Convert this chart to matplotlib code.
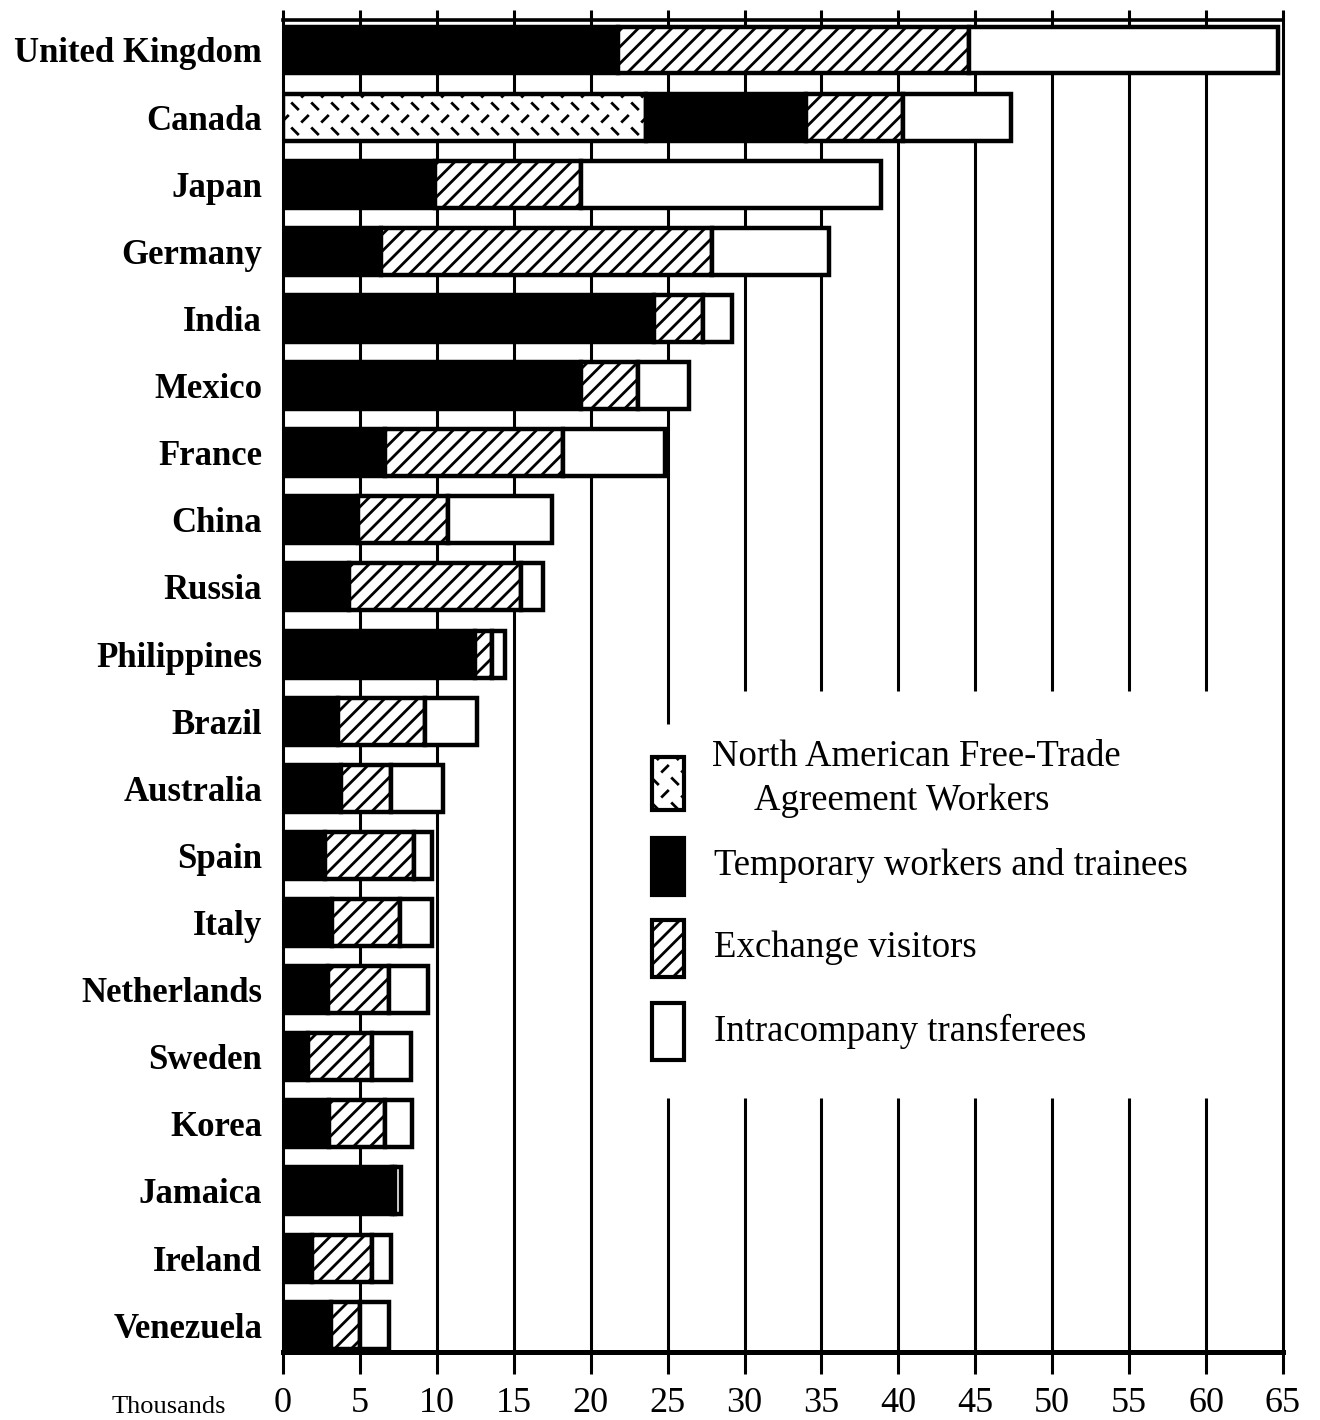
import numpy as np
import matplotlib
matplotlib.use("Agg")
import matplotlib.pyplot as plt
import matplotlib.hatch as mhatch
from matplotlib.path import Path
from matplotlib.patches import Rectangle

# --- data (thousands) ---
countries = ["United Kingdom", "Canada", "Japan", "Germany", "India", "Mexico",
             "France", "China", "Russia", "Philippines", "Brazil", "Australia",
             "Spain", "Italy", "Netherlands", "Sweden", "Korea", "Jamaica",
             "Ireland", "Venezuela"]
nafta = [0, 23.6, 0, 0, 0, 0, 0, 0, 0, 0, 0, 0, 0, 0, 0, 0, 0, 0, 0, 0]
temporary = [21.8, 10.4, 9.9, 6.4, 24.1, 19.4, 6.6, 4.9, 4.3, 12.5,
             3.6, 3.8, 2.7, 3.2, 2.9, 1.6, 3.0, 7.1, 1.9, 3.1]
exchange = [22.8, 6.3, 9.5, 21.5, 3.2, 3.7, 11.6, 5.8, 11.2, 1.1,
            5.6, 3.2, 5.8, 4.4, 4.0, 4.2, 3.6, 0.2, 3.9, 1.9]
intracompany = [20.1, 7.0, 19.5, 7.6, 1.9, 3.3, 6.6, 6.8, 1.4, 0.8,
                3.4, 3.4, 1.2, 2.1, 2.5, 2.5, 1.8, 0.4, 1.2, 1.9]
xticks = list(range(0, 70, 5))

legend_labels = ["North American Free-Trade", "Agreement Workers",
                 "Temporary workers and trainees", "Exchange visitors",
                 "Intracompany transferees"]


# short dashes leaning both ways, like the NAFTA fill in the scan
class NaftaWeave(mhatch.HatchPatternBase):
    def __init__(self, hatch, density):
        self.rows = 8 * hatch.count('*')
        self.cols = 5
        self.num_vertices = self.rows * self.cols * 2

    def set_vertices_and_codes(self, vertices, codes):
        d = 0.028
        k = 0
        for j in range(self.rows):
            yc = (j + 0.5) / self.rows
            s = 1 if j % 2 == 0 else -1
            for i in range(self.cols):
                xc = (i + 0.25 + 0.5 * (j % 2)) / self.cols
                vertices[k] = (xc - d, yc - s * d)
                vertices[k + 1] = (xc + d, yc + s * d)
                codes[k] = Path.MOVETO
                codes[k + 1] = Path.LINETO
                k += 2


mhatch._hatch_types = [t for t in mhatch._hatch_types if t is not mhatch.Stars] + [NaftaWeave]

plt.rcParams['font.family'] = ['Liberation Serif', 'DejaVu Serif']
plt.rcParams['hatch.linewidth'] = 2.0
plt.rcParams['hatch.color'] = 'black'

W, H = 1320, 1420
fig = plt.figure(figsize=(W / 100, H / 100), dpi=100)
ax_left, ax_right, ax_top, ax_bot = 283, 1283, 20, 1352
ax = fig.add_axes([ax_left / W, 1 - ax_bot / H, (ax_right - ax_left) / W, (ax_bot - ax_top) / H])

y = np.arange(len(countries))
y_top, y_bot = -0.447, 19.40
ax.set_xlim(0, 65)
ax.set_ylim(y_bot, y_top)

# stacked bars
series = [
    (nafta, 'white', '*'),
    (temporary, 'black', None),
    (exchange, 'white', '//'),
    (intracompany, 'white', None),
]
left = np.zeros(len(countries))
for vals, fc, hatch in series:
    vals = np.array(vals)
    ax.barh(y, vals, left=left, height=0.7, color=fc, edgecolor='black',
            linewidth=3.2, hatch=hatch, zorder=3)
    left += vals

# grid lines, broken where the legend sits
for xv in xticks[1:-1]:
    if xv < 25:
        ax.vlines(xv, y_top, y_bot, color='black', lw=2.2, zorder=1)
    else:
        stop = 10.05 if xv == 25 else 9.55
        ax.vlines(xv, y_top, stop, color='black', lw=2.2, zorder=1)
        ax.vlines(xv, 15.62, y_bot, color='black', lw=2.2, zorder=1)

for side in ['left', 'right']:
    ax.spines[side].set_linewidth(2.2)
ax.spines['top'].set_linewidth(2.6)
ax.spines['bottom'].set_linewidth(3.6)

ax.set_xticks(xticks)
ax.set_xticklabels([str(t) for t in xticks], fontsize=26)
ax.tick_params(axis='x', top=True, bottom=True, direction='out',
               length=16, width=2.2, pad=9)
for tick in ax.xaxis.get_major_ticks():
    tick.tick2line.set_markersize(7)

ax.set_yticks(y)
ax.set_yticklabels(countries, fontsize=25, fontweight='bold')
ax.tick_params(axis='y', length=0, pad=15)

fig.text(169 / W, 1 - 1407 / H, "Thousands", ha='center', va='center', fontsize=19)


# legend drawn by hand inside the gap of the grid
def px(xp, yp):
    return ((xp - ax_left) / (ax_right - ax_left), 1 - (yp - ax_top) / (ax_bot - ax_top))


legend_boxes = [('white', '*', 757, 810), ('black', None, 838, 895),
                ('white', '//', 920, 977), ('white', None, 1003, 1060)]
for fc, hatch, ya, yb in legend_boxes:
    x0, y0 = px(652, yb)
    x1, y1 = px(684, ya)
    ax.add_patch(Rectangle((x0, y0), x1 - x0, y1 - y0, transform=ax.transAxes,
                           facecolor=fc, edgecolor='black', lw=3.0, hatch=hatch,
                           zorder=4, clip_on=False))

text_pos = [(712, 757), (754, 801), (714, 866), (714, 948), (714, 1031)]
for label, (xp, yp) in zip(legend_labels, text_pos):
    tx, ty = px(xp, yp)
    ax.text(tx, ty, label, transform=ax.transAxes, ha='left', va='center',
            fontsize=26.5, zorder=4)

fig.savefig("out.png", dpi=100, facecolor='white')
